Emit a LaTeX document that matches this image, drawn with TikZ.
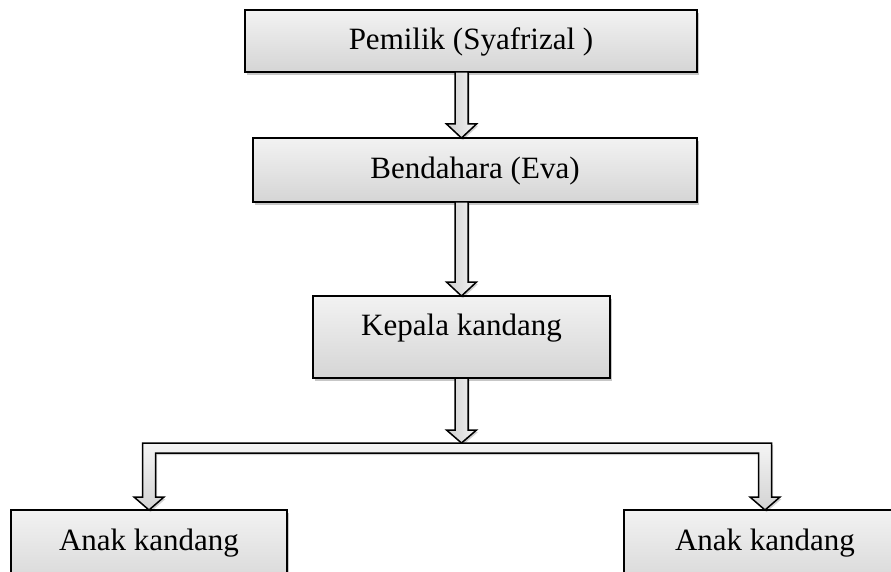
\documentclass[tikz,border=0pt]{standalone}
\usepackage{fontspec}
\setmainfont{Liberation Serif}
\usetikzlibrary{shadows,calc}
\begin{document}
\begin{tikzpicture}[x=1pt,y=-1pt,
  box/.style={draw=black, line width=2pt, top color=gray!10, bottom color=gray!33,
    inner sep=0pt, outer sep=0pt, anchor=north west, font=\fontsize{31}{36}\selectfont,
    drop shadow={shadow xshift=2pt, shadow yshift=-3pt, opacity=0.22, fill=black}},
  barrow/.style={draw=black, line width=1.5pt, line join=miter, left color=gray!38, right color=gray!8,
    drop shadow={shadow xshift=1.5pt, shadow yshift=-2pt, opacity=0.18, fill=black}}]
\clip (0,0) rectangle (891,572);
\fill[white] (0,0) rectangle (891,572);
\node[box, minimum width=452pt, minimum height=62pt, text height=40pt, text depth=22pt] (p) at (245,10) {Pemilik (Syafrizal )};
\node[box, minimum width=444pt, minimum height=64pt, text height=41pt, text depth=23pt] (b) at (253,138) {Bendahara (Eva)};
\node[box, minimum width=297pt, minimum height=82pt, text height=39pt, text depth=43pt] (k) at (313,296) {Kepala kandang};
\node[box, minimum width=276pt, minimum height=82pt, text height=40pt, text depth=42pt] (a1) at (11,510) {Anak kandang};
\node[box, minimum width=282pt, minimum height=82pt, text height=40pt, text depth=42pt] (a2) at (624,510) {Anak kandang};
\coordinate (bar) at (461.5,443);
% arrow Pemilik -> Bendahara
\draw[barrow] let \p1=(k.north), \p2=(p.south), \p3=(b.north) in
  (\x1-6.5pt,\y2) -- (\x1+6.5pt,\y2) -- (\x1+6.5pt,\y3+14pt) -- (\x1+15pt,\y3+14pt) -- (\x1,\y3)
  -- (\x1-15pt,\y3+14pt) -- (\x1-6.5pt,\y3+14pt) -- cycle;
% arrow Bendahara -> Kepala
\draw[barrow] let \p1=(k.north), \p2=(b.south), \p3=(k.north) in
  (\x1-6.5pt,\y2) -- (\x1+6.5pt,\y2) -- (\x1+6.5pt,\y3+14pt) -- (\x1+15pt,\y3+14pt) -- (\x1,\y3)
  -- (\x1-15pt,\y3+14pt) -- (\x1-6.5pt,\y3+14pt) -- cycle;
% arrow Kepala -> bar
\draw[barrow] let \p1=(k.south), \p3=(bar) in
  (\x1-6.5pt,\y1) -- (\x1+6.5pt,\y1) -- (\x1+6.5pt,\y3+13pt) -- (\x1+15pt,\y3+13pt) -- (\x1,\y3)
  -- (\x1-15pt,\y3+13pt) -- (\x1-6.5pt,\y3+13pt) -- cycle;
% bracket to the two Anak kandang boxes
\draw[barrow, left color=gray!30, right color=gray!30, top color=gray!8, bottom color=gray!35]
  let \p1=(a1.north), \p2=(a2.north), \p3=(bar) in
  (\x1-6.5pt,\y3) -- (\x2+6.5pt,\y3) -- (\x2+6.5pt,\y2+13pt) -- (\x2+15pt,\y2+13pt) -- (\x2,\y2)
  -- (\x2-15pt,\y2+13pt) -- (\x2-6.5pt,\y2+13pt) -- (\x2-6.5pt,\y3-10pt) -- (\x1+6.5pt,\y3-10pt)
  -- (\x1+6.5pt,\y2+13pt) -- (\x1+15pt,\y2+13pt) -- (\x1,\y2) -- (\x1-15pt,\y2+13pt)
  -- (\x1-6.5pt,\y2+13pt) -- cycle;
\end{tikzpicture}
\end{document}
